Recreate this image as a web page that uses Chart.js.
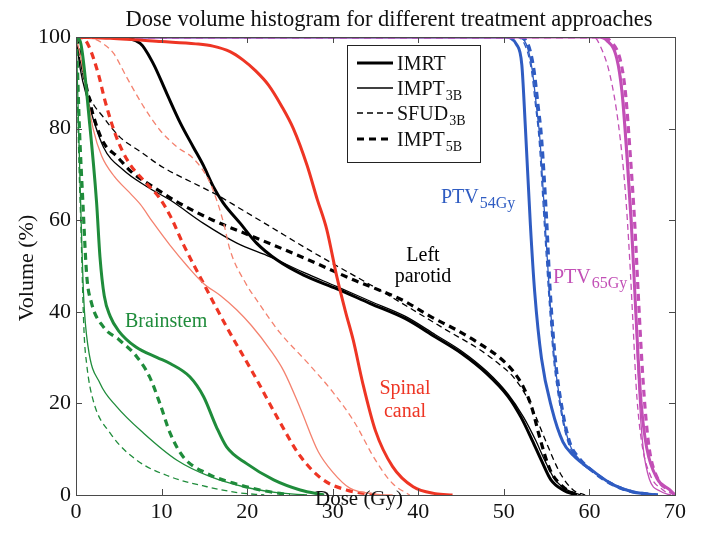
<!DOCTYPE html>
<html>
<head>
<meta charset="utf-8">
<script src="https://cdn.jsdelivr.net/npm/chart.js@4.4.1/dist/chart.umd.min.js"></script>
<style>
  html, body { margin: 0; padding: 0; background: #fff; }
  #wrap { width: 701px; height: 538px; }
</style>
</head>
<body>
<div id="wrap"><canvas id="dvh" width="701" height="538"></canvas></div>
<script>
// axis ticks
const doseTicks = [0, 10, 20, 30, 40, 50, 60, 70];
const volumeTicks = [0, 20, 40, 60, 80, 100];

// Brainstem
const bsImrtDose  = [0, 0.5, 1.6, 2.4, 2.8, 3.3, 4, 5, 7, 9.5, 11, 13.3, 14.9, 16.4, 17.6, 19.9, 23.1, 26.2, 29];
const bsImrtVol   = [100, 99, 81, 64, 52, 43.5, 39, 35.8, 32.3, 30, 28.7, 25.8, 21.5, 14.9, 10.5, 6.9, 3.3, 1.1, 0];
const bsImpt3Dose = [0, 0.2, 0.45, 0.6, 0.9, 1.4, 2.8, 4.75, 7.9, 11.8, 15.7, 19.6, 23.5, 27];
const bsImpt3Vol  = [100, 88, 70, 60, 43, 32.5, 24.4, 19.3, 13.5, 7.6, 4, 1.8, 0.5, 0];
const bsSfudDose  = [0, 0.15, 0.35, 0.55, 0.93, 1.25, 2, 4, 7.1, 11, 15.3, 19, 22];
const bsSfudVol   = [100, 88, 72, 60, 36, 28.5, 20.7, 13.5, 7.6, 4, 1.8, 0.5, 0];
const bsImpt5Dose = [0, 0.15, 0.4, 0.8, 1.25, 1.8, 3.2, 5.1, 7.1, 8.6, 9.8, 11, 12.5, 15.3, 18.4, 21.5, 25];
const bsImpt5Vol  = [100, 94, 80, 64, 48, 42, 36.7, 33.8, 30.2, 25.8, 20, 13.5, 8.4, 4.7, 2.6, 1.1, 0];

// Spinal canal
const scImrtDose  = [0, 4, 10, 14, 16, 18, 19.5, 21, 22.5, 24, 25.4, 27, 28.2, 29.3, 30.5, 31.5, 32.4, 33.5, 35, 37, 39.4, 42, 44];
const scImrtVol   = [100, 99.7, 99, 98.5, 98, 96.8, 95, 92.6, 89.5, 85, 80, 72, 64.5, 58, 47.5, 40, 33.8, 24.5, 14, 6.2, 1.8, 0.3, 0];
const scImpt3Dose = [0, 0.5, 1.25, 2, 3, 4.5, 6, 7.5, 9, 11, 13, 14.9, 16.9, 18.8, 20.5, 22.7, 24.3, 26.2, 28.3, 30, 32, 35, 37];
const scImpt3Vol  = [100, 96, 88, 80, 74, 69.5, 66.5, 63.5, 59.5, 54.5, 50, 46.2, 43.5, 40.4, 37, 31.7, 27, 19, 9.5, 5, 1.5, 0.2, 0];
const scSfudDose  = [0, 1, 2, 3.2, 4.4, 5.9, 7.9, 9.8, 11.8, 13.7, 15.5, 16.6, 17.3, 18, 19.9, 21.1, 23.8, 27, 30, 32.5, 35, 37, 39];
const scSfudVol   = [100, 100, 99.7, 98.5, 96.4, 91.3, 84.8, 79.7, 76, 73.5, 68.8, 63.5, 59, 53.5, 46, 42.6, 35.5, 29, 22.5, 16, 7.6, 2.5, 0];
const scImpt5Dose = [0, 0.8, 1.5, 2.6, 3.4, 4.75, 6.2, 8, 9.7, 11, 12.6, 14.9, 17.6, 20.7, 23.8, 26.2, 28.9, 31.6, 35];
const scImpt5Vol  = [100, 99.8, 98, 92, 86, 78, 72.5, 68.5, 65, 61, 54.5, 46.2, 36.7, 26.6, 16, 8.5, 3.3, 1.1, 0];

// Left parotid
const lpImrtDose  = [0, 5, 7.5, 9, 10.6, 12.2, 13.7, 14.9, 16, 17.2, 19.2, 21.1, 23.5, 26.6, 30.5, 34.4, 38.5, 42, 45, 48, 50.5, 52, 53.3, 54.4, 55.5, 57, 58.5];
const lpImrtVol   = [100, 99.8, 98.6, 94.3, 87.7, 81.2, 76, 71.9, 67.5, 63.8, 59.3, 55, 51.3, 48, 45, 41.8, 38.5, 34.5, 31, 26.5, 21.5, 17, 12, 7.5, 3.3, 1, 0];
const lpImpt3Dose = [0, 0.5, 1.25, 3.2, 5.5, 8.3, 11, 14.9, 18.8, 22.7, 26.6, 30.5, 34.4, 38.5, 42, 45, 48, 50.5, 52.3, 53.7, 54.8, 56, 57.5, 59];
const lpImpt3Vol  = [100, 93, 87, 76, 71, 67.3, 64.4, 59.3, 55, 52, 48.6, 45.5, 42.3, 39, 35, 31.5, 27, 22, 17, 12, 7.5, 3.3, 1, 0];
const lpSfudDose  = [0, 0.5, 1.6, 3.2, 5.1, 7.5, 10.2, 13.3, 16.5, 19.2, 22.7, 26.6, 30.5, 34.5, 39.4, 43.3, 47.2, 49.5, 51.1, 52.5, 53.4, 55, 56.6, 58.1, 59.5];
const lpSfudVol   = [100, 94.5, 87, 82.5, 78.2, 75, 71.5, 68.5, 65.5, 62.5, 58.6, 54.2, 50, 45.8, 40.4, 36, 31.7, 28.5, 25.8, 22, 18.6, 11.3, 4.7, 1.1, 0];
const lpImpt5Dose = [0, 0.5, 1, 2, 3.2, 4.75, 6.5, 9, 12, 16, 20.7, 26.6, 32.4, 38.2, 41.4, 44.5, 47.2, 49.5, 51.1, 52.3, 53.2, 54.2, 55.4, 56.9, 58.5];
const lpImpt5Vol  = [100, 96, 91, 83, 77, 74, 70.5, 67.3, 63.8, 60, 56.4, 51.8, 47, 42.5, 39, 36, 33, 30, 27, 23.5, 19.5, 12.5, 5.5, 1.8, 0];

// PTV 54 Gy
const p54ImrtDose  = [0, 50, 51.5, 52.1, 52.5, 53.1, 53.6, 54.4, 55.6, 56.9, 58.1, 60.5, 62.8, 65, 68];
const p54ImrtVol   = [100, 100, 98.3, 93.9, 80.8, 59, 44.4, 29.8, 18.9, 11.6, 8.7, 5.1, 2.2, 0.7, 0];
const p54Impt3Dose = [0, 51.5, 52.6, 53.3, 53.8, 54.2, 54.8, 55.3, 55.9, 56.7, 57.6, 58.5, 60.5, 62.8, 65, 68];
const p54Impt3Vol  = [100, 100, 98.5, 93, 85, 78, 60, 45, 30, 19, 11.5, 8.5, 5, 2.2, 0.7, 0];
const p54SfudDose  = [0, 51.3, 52.4, 53.2, 53.7, 54.1, 54.7, 55.2, 55.8, 56.6, 57.5, 58.4, 60.8, 63.3, 65.5, 68];
const p54SfudVol   = [100, 100, 98.5, 93, 85, 78, 60, 45, 30, 19, 11.5, 8.3, 4.6, 2, 0.6, 0];
const p54Impt5Dose = [0, 51.7, 52.8, 53.5, 54, 54.4, 55, 55.4, 56, 56.8, 57.7, 58.6, 60.5, 62.8, 65, 68];
const p54Impt5Vol  = [100, 100, 98.5, 93, 85, 78, 60, 45, 30, 19, 11.5, 8.5, 5, 2.2, 0.7, 0];

// PTV 65 Gy
const p65ImrtDose  = [0, 61, 62, 63.2, 63.8, 64.4, 64.9, 65.3, 65.7, 66.1, 66.7, 67.9, 69.4, 70];
const p65ImrtVol   = [100, 100, 99.3, 95.3, 88, 73.5, 59, 44.4, 29.8, 18.9, 10.2, 3.6, 1.1, 0];
const p65Impt3Dose = [0, 61.3, 62.3, 63.4, 64, 64.5, 65, 65.3, 65.6, 65.9, 66.3, 67, 68.3, 69.5];
const p65Impt3Vol  = [100, 100, 99, 94, 86, 73, 58, 44, 30, 19, 10, 3.5, 0.8, 0];
const p65SfudDose  = [0, 60.5, 61.2, 62.4, 63.4, 64.2, 64.7, 65.1, 65.5, 66.1, 67.1, 68.6, 69.5];
const p65SfudVol   = [100, 100, 98.3, 91.7, 80.8, 66.2, 51.7, 37.1, 22.6, 11.6, 4.4, 1.1, 0];
const p65Impt5Dose = [0, 61.5, 62.5, 63.6, 64.2, 64.8, 65.3, 65.7, 66.1, 66.5, 67, 68, 69.3, 70];
const p65Impt5Vol  = [100, 100, 99, 95, 88, 73.5, 59, 44, 30, 19, 10, 3.5, 1, 0];

const GREEN = "#1f8c3b", RED = "#ee3524", SALMON = "#f4826f", BLACK = "#000000",
      BLUE = "#2f5cc2", MAGENTA = "#c24fb6";
const SERIF = "'Liberation Serif', 'Times New Roman', serif";

// line style per approach
const styles = {
  IMRT:  { width: 3,   dash: [] },
  IMPT3: { width: 1.3, dash: [] },
  SFUD:  { width: 1.3, dash: [6, 4] },
  IMPT5: { width: 3.2, dash: [7, 5] }
};

function curve(dose, vol, color, kind) {
  return {
    data: dose.map((d, i) => ({ x: d, y: vol[i] })),
    borderColor: color,
    borderWidth: styles[kind].width,
    borderDash: styles[kind].dash,
    pointRadius: 0,
    fill: false,
    cubicInterpolationMode: "monotone"
  };
}

const datasets = [
  curve(bsImrtDose, bsImrtVol, GREEN, "IMRT"),
  curve(bsImpt3Dose, bsImpt3Vol, GREEN, "IMPT3"),
  curve(bsSfudDose, bsSfudVol, GREEN, "SFUD"),
  curve(bsImpt5Dose, bsImpt5Vol, GREEN, "IMPT5"),
  curve(scImpt3Dose, scImpt3Vol, SALMON, "IMPT3"),
  curve(scSfudDose, scSfudVol, SALMON, "SFUD"),
  curve(scImpt5Dose, scImpt5Vol, RED, "IMPT5"),
  curve(scImrtDose, scImrtVol, RED, "IMRT"),
  curve(lpImrtDose, lpImrtVol, BLACK, "IMRT"),
  curve(lpImpt3Dose, lpImpt3Vol, BLACK, "IMPT3"),
  curve(lpSfudDose, lpSfudVol, BLACK, "SFUD"),
  curve(lpImpt5Dose, lpImpt5Vol, BLACK, "IMPT5"),
  curve(p65ImrtDose, p65ImrtVol, MAGENTA, "IMRT"),
  curve(p65Impt3Dose, p65Impt3Vol, MAGENTA, "IMPT3"),
  curve(p65SfudDose, p65SfudVol, MAGENTA, "SFUD"),
  curve(p65Impt5Dose, p65Impt5Vol, MAGENTA, "IMPT5"),
  curve(p54ImrtDose, p54ImrtVol, BLUE, "IMRT"),
  curve(p54Impt3Dose, p54Impt3Vol, BLUE, "IMPT3"),
  curve(p54SfudDose, p54SfudVol, BLUE, "SFUD"),
  curve(p54Impt5Dose, p54Impt5Vol, BLUE, "IMPT5")
];

// text with a lowered subscript
function subText(ctx, main, sub, x, y, size, subSize, color, align) {
  ctx.save();
  ctx.fillStyle = color;
  ctx.textBaseline = "alphabetic";
  ctx.font = size + "px " + SERIF;
  const w1 = ctx.measureText(main).width;
  ctx.font = subSize + "px " + SERIF;
  const w2 = sub ? ctx.measureText(sub).width : 0;
  let x0 = x;
  if (align === "center") x0 = x - (w1 + w2) / 2;
  ctx.textAlign = "left";
  ctx.font = size + "px " + SERIF;
  ctx.fillText(main, x0, y);
  if (sub) {
    ctx.font = subSize + "px " + SERIF;
    ctx.fillText(sub, x0 + w1 + 1, y + 5);
  }
  ctx.restore();
}

const decor = {
  id: "decor",
  afterDraw(chart) {
    const { ctx, chartArea: a, scales } = chart;
    const xs = scales.x, ys = scales.y;

    // frame with inward ticks on all sides
    ctx.save();
    ctx.strokeStyle = "#4a4a4a";
    ctx.lineWidth = 1;
    ctx.setLineDash([]);
    ctx.strokeRect(a.left + 0.5, a.top + 0.5, a.right - a.left, a.bottom - a.top);
    ctx.beginPath();
    doseTicks.forEach(v => {
      const px = Math.round(xs.getPixelForValue(v)) + 0.5;
      ctx.moveTo(px, a.bottom); ctx.lineTo(px, a.bottom - 6);
      ctx.moveTo(px, a.top); ctx.lineTo(px, a.top + 6);
    });
    volumeTicks.forEach(v => {
      const py = Math.round(ys.getPixelForValue(v)) + 0.5;
      ctx.moveTo(a.left, py); ctx.lineTo(a.left + 6, py);
      ctx.moveTo(a.right, py); ctx.lineTo(a.right - 6, py);
    });
    ctx.stroke();
    ctx.restore();

    // title and axis titles
    ctx.save();
    ctx.fillStyle = "#111";
    ctx.textAlign = "center";
    ctx.textBaseline = "alphabetic";
    ctx.font = "22.5px " + SERIF;
    ctx.fillText("Dose volume histogram for different treatment approaches", 389, 26);
    ctx.font = "21px " + SERIF;
    ctx.fillText("Dose (Gy)", 359, 505);
    ctx.translate(33, 268);
    ctx.rotate(-Math.PI / 2);
    ctx.font = "22px " + SERIF;
    ctx.fillText("Volume (%)", 0, 0);
    ctx.restore();

    // structure labels
    subText(ctx, "Brainstem", "", 125, 327, 20, 14, GREEN, "left");
    subText(ctx, "Left", "", 423, 261, 20, 14, BLACK, "center");
    subText(ctx, "parotid", "", 423, 282, 20, 14, BLACK, "center");
    subText(ctx, "Spinal", "", 405, 394, 20, 14, RED, "center");
    subText(ctx, "canal", "", 405, 417, 20, 14, RED, "center");
    subText(ctx, "PTV", "54Gy", 441, 203, 20, 16, BLUE, "left");
    subText(ctx, "PTV", "65Gy", 553, 283, 20, 16, MAGENTA, "left");

    // legend
    ctx.save();
    ctx.fillStyle = "#fff";
    ctx.fillRect(347, 45, 133, 117);
    ctx.strokeStyle = "#222";
    ctx.lineWidth = 1;
    ctx.strokeRect(347.5, 45.5, 133, 117);
    const rows = [
      ["IMRT", "", "IMRT", 63],
      ["IMPT", "3B", "IMPT3", 88],
      ["SFUD", "3B", "SFUD", 113],
      ["IMPT", "5B", "IMPT5", 139]
    ];
    rows.forEach(([main, sub, kind, cy]) => {
      ctx.save();
      ctx.strokeStyle = BLACK;
      ctx.lineWidth = styles[kind].width;
      ctx.setLineDash(styles[kind].dash);
      ctx.beginPath();
      ctx.moveTo(357, cy); ctx.lineTo(393, cy);
      ctx.stroke();
      ctx.restore();
      subText(ctx, main, sub, 397, cy + 7, 20, 14, "#111", "left");
    });
    ctx.restore();
  }
};

new Chart(document.getElementById("dvh"), {
  type: "line",
  data: { datasets },
  options: {
    responsive: false,
    animation: false,
    layout: { padding: { top: 37, right: 26, left: 0, bottom: 0 } },
    plugins: { legend: { display: false }, tooltip: { enabled: false }, title: { display: false } },
    scales: {
      x: {
        type: "linear",
        min: 0, max: 70,
        grid: { display: false, drawTicks: false },
        border: { display: false },
        afterFit: s => { s.height = 43; },
        ticks: { stepSize: 10, padding: 4, color: "#111", font: { family: SERIF, size: 22 } }
      },
      y: {
        min: 0, max: 100,
        grid: { display: false, drawTicks: false },
        border: { display: false },
        afterFit: s => { s.width = 76; },
        ticks: { stepSize: 20, padding: 5, color: "#111", font: { family: SERIF, size: 22 } }
      }
    }
  },
  plugins: [decor]
});
</script>
</body>
</html>
